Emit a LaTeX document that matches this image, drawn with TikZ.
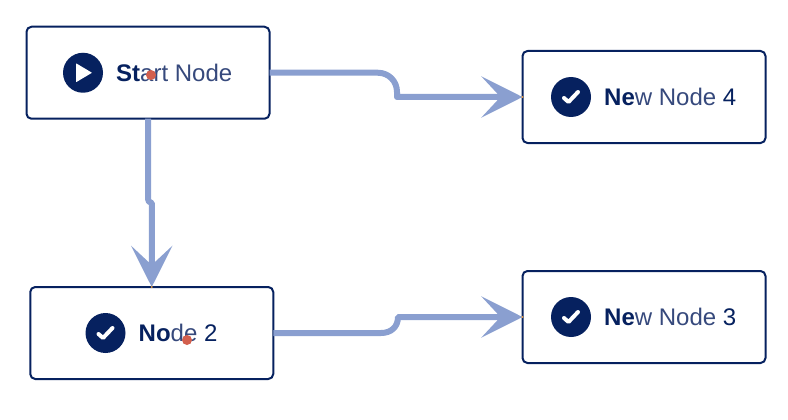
\documentclass[tikz,border=0pt]{standalone}
\usepackage{fontspec}
\setmainfont{Liberation Sans}
\usetikzlibrary{positioning,arrows.meta}
\definecolor{navy}{HTML}{06215F}
\definecolor{soft}{HTML}{36497C}
\definecolor{linkblue}{HTML}{8A9FD0}
\definecolor{dotred}{HTML}{D35F4D}
\definecolor{tipred}{HTML}{D9923F}
\begin{document}
\begin{tikzpicture}[x=1pt,y=-1pt,line join=round,>={Stealth[length=41pt,width=41pt,inset=19pt]},
  nodebox/.style={draw=navy,fill=white,line width=2pt,rounded corners=5pt,minimum width=243pt,minimum height=92pt,outer sep=0pt},
  badge/.style={circle,fill=navy,minimum size=40pt,inner sep=0pt,outer sep=0pt},
  tick/.style={draw=white,line width=4pt,line cap=round},
  caption/.style={right=13pt of #1,inner sep=0pt,text=soft,font=\fontsize{24}{27}\selectfont},
  link/.style={draw=linkblue,line width=6pt},
  reddot/.style={circle,fill=dotred,minimum size=10pt,inner sep=0pt}]
\useasboundingbox (0,0) rectangle (788,420);
% boxes
\node[nodebox] (start) at (148,72.75) {};
\node[nodebox] (two) at (151.75,333) {};
\node[nodebox] (four) at (644,97) {};
\node[nodebox] (three) at (644,317) {};
% connectors
\draw[link,->] (start.east) -- (378,72.75) .. controls (388.5,72.75) and (397,81) .. (397,92) -- (397,97) -- (four.west);
\draw[link,->] (start.south) -- (148,197) .. controls (148,201) and (149,203) .. (151.75,203) -- (two.north);
\draw[link,->,line join=bevel] (two.east) -- (381,333) .. controls (391,333) and (398,327) .. (398,317) -- (three.west);
\foreach \t in {two.north,four.west,three.west}
  \fill[tipred] (\t) circle (1.2pt);
% icons
\node[badge] (startb) at (83,72.75) {};
\fill[white,rounded corners=0.5pt] ([shift={(-7,-9.5)}]startb.center) -- ++(16,9.5) -- ++(-16,9.5) -- cycle;
\node[badge] (twob) at (105.5,333) {};
\node[badge] (fourb) at (571,97) {};
\node[badge] (threeb) at (571,317) {};
\foreach \b in {twob,fourb,threeb}
  \draw[tick] ([shift={(-7,1)}]\b.center) -- ++(4.5,4) -- ++(9.5,-10);
% labels
\node[caption=startb] (startt) {\textcolor{navy}{\textbf{St}}art Node};
\node[caption=twob] (twot) {\textcolor{navy}{\textbf{No}}de \textcolor{navy}{2}};
\node[caption=fourb] (fourt) {\textcolor{navy}{\textbf{Ne}}w Node \textcolor{navy}{4}};
\node[caption=threeb] (threet) {\textcolor{navy}{\textbf{Ne}}w Node \textcolor{navy}{3}};
\node[reddot] (dota) at (151,75) {};
\node[reddot] (dotb) at (187,340) {};
\end{tikzpicture}
\end{document}
